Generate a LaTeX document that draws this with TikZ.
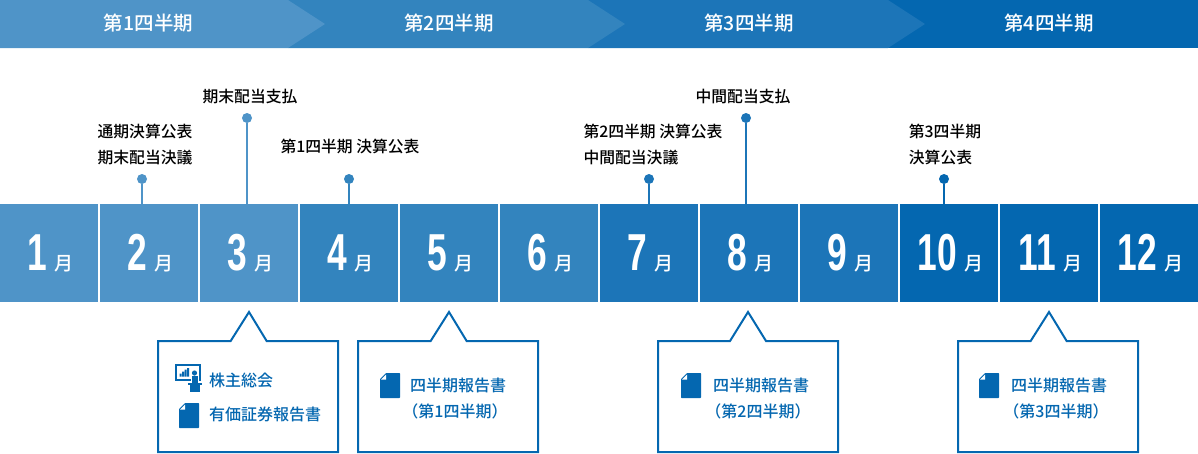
\documentclass[tikz,border=0pt]{standalone}
\usepackage{fontspec}
\setmainfont{Noto Sans CJK JP Medium}
\newfontfamily\numfont[FakeStretch=0.68]{Liberation Sans}
\newcommand{\monthnum}[1]{\hspace{3pt}{\numfont\bfseries\fontsize{52pt}{52pt}\selectfont #1}\hspace{7pt}月}
\usetikzlibrary{positioning,shapes.callouts}
\definecolor{qone}{HTML}{4F94C8}
\definecolor{qtwo}{HTML}{3384BE}
\definecolor{qthree}{HTML}{1C75B8}
\definecolor{qfour}{HTML}{0467B0}
\tikzset{
  month/.style={minimum width=98pt,minimum height=98pt,inner sep=0pt,text=white,font=\fontsize{19pt}{19pt}\selectfont},
  quarter/.style={text=white,inner sep=0pt,font=\fontsize{19.5pt}{20pt}\selectfont},
  stem/.style={line width=2pt},
  dot/.style={circle,inner sep=0pt,minimum size=10pt},
  event/.style={align=left,inner sep=0pt,font=\fontsize{15.8pt}{26pt}\selectfont},
  balloon/.style={rectangle callout,draw=qfour,line width=2pt,fill=white,minimum width=180pt,minimum height=111pt,callout pointer width=36pt},
  report/.style={text=qfour,inner sep=0pt,font=\fontsize{16pt}{26pt}\selectfont},
  docicon/.pic={
    \fill[qfour,rounded corners=0.7pt] (-4,-12.5) -- (10,-12.5) -- (10,12.5) -- (-10,12.5) -- (-10,-6.5) -- cycle;
    \fill[white] (-9,-6) -- (-4,-6) -- (-4,-11) -- cycle;
  },
  chart/.pic={
    \draw[qfour,line width=1.4pt] (-13,-13.5) rectangle (11,1.5);
    \fill[qfour] (-9.5,-5) rectangle (-7.5,-2) (-7,-7) rectangle (-5,-2) (-4.5,-9) rectangle (-2.5,-2) (-2,-10.5) rectangle (0,-2);
    \fill[white] (1.5,-8.5) rectangle (10,4);
    \fill[qfour] (5.5,-5.5) circle (2.6pt);
    \fill[qfour] (2.5,-2.5) -- (9,-2.5) -- (9,4.5) -- (2.5,4.5) -- cycle;
    \fill[qfour] (-1,4.5) rectangle (13,6.5);
    \fill[qfour] (1,6.5) rectangle (11,13.5);
  },
}
\begin{document}
\begin{tikzpicture}[x=1pt,y=-1pt,node distance=100pt]
  \useasboundingbox (0,0) rectangle (1198,453);
  % quarters
  \fill[qfour] (888,0) rectangle (1198,48);
  \fill[qthree] (588,0) -- (888,0) -- (925,24) -- (888,48) -- (588,48) -- cycle;
  \fill[qtwo] (288,0) -- (588,0) -- (625,24) -- (588,48) -- (288,48) -- cycle;
  \fill[qone] (0,0) -- (288,0) -- (325,24) -- (288,48) -- (0,48) -- cycle;
  \node[quarter] (q1) at (148.5,23.5) {第1四半期};
  \node[quarter] (q2) at (449,23.5) {第2四半期};
  \node[quarter] (q3) at (749,23.5) {第3四半期};
  \node[quarter] (q4) at (1049,23.5) {第4四半期};
  % months
  \node[month,fill=qone] (jan) at (49,253) {\monthnum{1}};
  \node[month,fill=qone] (feb) [right of=jan] {\monthnum{2}};
  \node[month,fill=qone] (mar) [right of=feb] {\monthnum{3}};
  \node[month,fill=qtwo] (apr) [right of=mar] {\monthnum{4}};
  \node[month,fill=qtwo] (may) [right of=apr] {\monthnum{5}};
  \node[month,fill=qtwo] (jun) [right of=may] {\monthnum{6}};
  \node[month,fill=qthree] (jul) [right of=jun] {\monthnum{7}};
  \node[month,fill=qthree] (aug) [right of=jul] {\monthnum{8}};
  \node[month,fill=qthree] (sep) [right of=aug] {\monthnum{9}};
  \node[month,fill=qfour] (oct) [right of=sep] {\monthnum{10}};
  \node[month,fill=qfour] (nov) [right of=oct] {\monthnum{11}};
  \node[month,fill=qfour] (dec) [right of=nov] {\monthnum{12}};
  % events
  \node[dot,fill=qone] (d2) at (142,179) {};
  \node[dot,fill=qone] (d3) at (247,118) {};
  \node[dot,fill=qtwo] (d4) at (349,179) {};
  \node[dot,fill=qthree] (d7) at (649,179) {};
  \node[dot,fill=qthree] (d8) at (746,118) {};
  \node[dot,fill=qfour] (d10) at (944,179) {};
  \draw[stem,qone] (d2) -- (d2 |- feb.north);
  \draw[stem,qone] (d3) -- (d3 |- mar.north);
  \draw[stem,qtwo] (d4) -- (d4 |- apr.north);
  \draw[stem,qthree] (d7) -- (d7 |- jul.north);
  \draw[stem,qthree] (d8) -- (d8 |- aug.north);
  \draw[stem,qfour] (d10) -- (d10 |- oct.north);
  \node[event,above=9pt of d2,xshift=3pt] (e2) {通期決算公表\\期末配当決議};
  \node[event,above=9pt of d3,xshift=3pt] (e3) {期末配当支払};
  \node[event,above=20pt of d4,xshift=1pt] (e4) {第1四半期 決算公表};
  \node[event,above=9pt of d7,xshift=4pt] (e7) {第2四半期 決算公表\\中間配当決議};
  \node[event,above=9pt of d8,xshift=-3pt] (e8) {中間配当支払};
  \node[event,above=9pt of d10,xshift=1pt] (e10) {第3四半期\\決算公表};
  % reports
  \node[balloon,callout absolute pointer={(249,312)}] (b1) at (248,396.5) {};
  \node[balloon,callout absolute pointer={(449,312)}] (b2) at (448,396.5) {};
  \node[balloon,callout absolute pointer={(748,312)}] (b3) at (748,396.5) {};
  \node[balloon,callout absolute pointer={(1049,312)}] (b4) at (1048,396.5) {};
  \pic at (189,378.5) {chart};
  \pic at (189,415.5) {docicon};
  \pic at (390,385.5) {docicon};
  \pic at (691,385.5) {docicon};
  \pic at (989,385.5) {docicon};
  \node[report,anchor=west] (r1) at (209,380) {株主総会};
  \node[report,anchor=west] (r2) at (209,414) {有価証券報告書};
  \node[report] (r3) at (458,385) {四半期報告書};
  \node[report] (r4) at (455,411) {（第1四半期）};
  \node[report] (r5) at (761,385) {四半期報告書};
  \node[report] (r6) at (758,411) {（第2四半期）};
  \node[report] (r7) at (1059,385) {四半期報告書};
  \node[report] (r8) at (1056,411) {（第3四半期）};
\end{tikzpicture}
\end{document}
